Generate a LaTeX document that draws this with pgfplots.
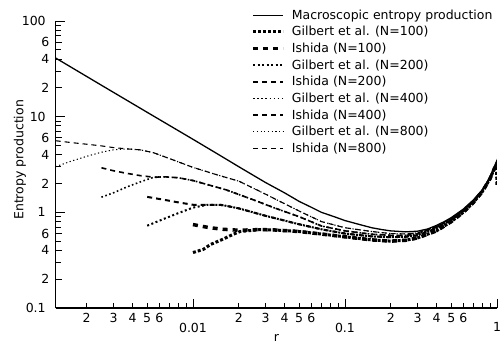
\documentclass[border=0pt]{standalone}
\usepackage{pgfplots}
\pgfplotsset{compat=1.18}
\usepackage{fontspec}
\setmainfont{DejaVu Sans}
\newcommand{\bigf}{\fontsize{12.5bp}{15bp}\selectfont}
\newcommand{\smallf}{\fontsize{8.5bp}{10bp}\selectfont}
\begin{document}
\begin{tikzpicture}
\begin{axis}[
  scale only axis, width=441.3bp, height=287bp,
  xmode=log, ymode=log,
  xmin=0.00125, xmax=1, ymin=0.1, ymax=100,
  axis x line*=bottom, axis y line*=left,
  axis line style={-, line width=1.2bp},
  tick align=inside,
  every tick/.style={black, line width=0.9bp},
  major tick length=9bp, minor tick length=5.5bp,
  xtick={0.01,0.1,1}, xticklabels={0.01,0.1,1},
  minor xtick={0.007,0.008,0.009,0.07,0.08,0.09,0.7,0.8,0.9},
  extra x ticks={0.002,0.003,0.004,0.005,0.006,0.02,0.03,0.04,0.05,0.06,0.2,0.3,0.4,0.5,0.6},
  extra x tick labels={2,3,4,5,6,2,3,4,5,6,2,3,4,5,6},
  extra x tick style={major tick length=5.5bp, tick label style={font=\smallf, yshift=9.1bp}},
  ytick={0.1,1,10,100}, yticklabels={0.1,1,10,100},
  minor ytick={0.3,0.5,0.7,0.8,0.9,3,5,7,8,9,30,50,70,80,90},
  extra y ticks={0.2,0.4,0.6,2,4,6,20,40,60},
  extra y tick labels={2,4,6,2,4,6,2,4,6},
  extra y tick style={major tick length=6.5bp, tick label style={font=\smallf, xshift=3.6bp}},
  xticklabel style={font=\bigf, yshift=-11.3bp},
  yticklabel style={font=\bigf, xshift=-6.5bp},
  xlabel={r}, ylabel={Entropy production},
  xlabel style={font=\bigf, at={(axis description cs:0.5,-0.103)}, anchor=center},
  ylabel style={font=\bigf, at={(axis description cs:-0.081,0.516)}, anchor=center, rotate=0},
  legend style={at={(axis description cs:0.443,1.047)}, anchor=north west, draw=none, fill=none,
    font=\bigf, inner sep=0pt, row sep=1.7bp, legend cell align=left,
    /tikz/every odd column/.append style={column sep=5bp}},
  legend image code/.code={\draw[#1] (0bp,0bp) -- (30bp,0bp);},
]
\addplot[black, line width=1.3bp] table {
0.00125 41
0.0025 21.3
0.005 11.1
0.01 5.8
0.015 3.95
0.02 3.0
0.03 2.05
0.04 1.6
0.05 1.3
0.06 1.13
0.07 1.0
0.085 0.9
0.1 0.82
0.125 0.745
0.15 0.69
0.175 0.66
0.2 0.64
0.25 0.625
0.3 0.635
0.35 0.67
0.4 0.73
0.45 0.8
0.5 0.88
0.6 1.08
0.7 1.35
0.8 1.72
0.85 1.98
0.9 2.35
0.95 2.85
1.0 3.4
};
\addlegendentry{Macroscopic entropy production}
% Gilbert N=100
\addplot[black, line width=3bp, dash pattern=on 3bp off 2bp] table {
0.01 0.38
0.0117 0.41
0.013 0.46
0.0158 0.525
0.0184 0.59
0.0204 0.63
0.0276 0.66
0.034 0.655
0.05 0.63
0.072 0.59
0.1 0.555
0.15 0.515
0.2 0.5
0.25 0.51
0.3 0.54
0.4 0.64
0.5 0.8
0.6 1.0
0.7 1.27
0.8 1.64
0.9 2.25
0.95 2.75
0.99 3.2
1.0 1.9
};
\addlegendentry{Gilbert et al. (N=100)}
% Ishida N=100
\addplot[black, line width=3.5bp, dash pattern=on 5bp off 5bp] table {
0.01 0.745
0.0117 0.71
0.013 0.69
0.0158 0.665
0.02 0.65
0.0276 0.66
0.034 0.655
0.05 0.63
0.072 0.59
0.1 0.555
0.15 0.515
0.2 0.5
0.25 0.51
0.3 0.54
0.4 0.64
0.5 0.8
0.6 1.0
0.7 1.27
0.8 1.64
0.9 2.25
0.95 2.75
1.0 3.3
};
\addlegendentry{Ishida (N=100)}
% Gilbert N=200
\addplot[black, line width=2bp, dash pattern=on 2bp off 2.5bp] table {
0.005 0.725
0.0065 0.86
0.008 0.98
0.01 1.12
0.0125 1.2
0.015 1.2
0.0165 1.17
0.02 1.1
0.03 0.92
0.05 0.75
0.07 0.665
0.1 0.6
0.15 0.56
0.2 0.55
0.25 0.555
0.3 0.575
0.4 0.68
0.5 0.83
0.6 1.03
0.7 1.3
0.8 1.67
0.9 2.28
0.95 2.78
0.99 3.2
1.0 1.95
};
\addlegendentry{Gilbert et al. (N=200)}
% Ishida N=200
\addplot[black, line width=2bp, dash pattern=on 5bp off 4bp] table {
0.005 1.45
0.0065 1.35
0.008 1.27
0.01 1.2
0.0125 1.2
0.015 1.2
0.0165 1.17
0.02 1.1
0.03 0.92
0.05 0.75
0.07 0.665
0.1 0.6
0.15 0.56
0.2 0.55
0.25 0.555
0.3 0.575
0.4 0.68
0.5 0.83
0.6 1.03
0.7 1.3
0.8 1.67
0.9 2.28
0.95 2.78
1.0 3.3
};
\addlegendentry{Ishida (N=200)}
% Gilbert N=400
\addplot[black, line width=1.6bp, dash pattern=on 1.6bp off 2.5bp] table {
0.0025 1.44
0.003 1.6
0.0037 1.85
0.0045 2.08
0.0055 2.32
0.0065 2.35
0.008 2.3
0.01 2.15
0.0165 1.72
0.025 1.35
0.035 1.1
0.05 0.9
0.07 0.72
0.1 0.64
0.15 0.59
0.2 0.575
0.25 0.575
0.3 0.595
0.4 0.7
0.5 0.85
0.6 1.05
0.7 1.32
0.8 1.69
0.9 2.3
0.95 2.8
1.0 3.3
};
\addlegendentry{Gilbert et al. (N=400)}
% Ishida N=400
\addplot[black, line width=1.6bp, dash pattern=on 5bp off 4bp] table {
0.0025 2.92
0.003 2.72
0.0037 2.55
0.0045 2.42
0.0055 2.33
0.0065 2.35
0.008 2.3
0.01 2.15
0.0165 1.72
0.025 1.35
0.035 1.1
0.05 0.9
0.07 0.72
0.1 0.64
0.15 0.59
0.2 0.575
0.25 0.575
0.3 0.595
0.4 0.7
0.5 0.85
0.6 1.05
0.7 1.32
0.8 1.69
0.9 2.3
0.95 2.8
1.0 3.3
};
\addlegendentry{Ishida (N=400)}
% Gilbert N=800
\addplot[black, line width=1.1bp, dash pattern=on 1.2bp off 2.5bp] table {
0.00125 3.0
0.0016 3.45
0.002 3.85
0.0025 4.25
0.003 4.5
0.0037 4.6
0.0045 4.5
0.0055 4.2
0.007 3.65
0.01 2.95
0.014 2.5
0.02 2.12
0.03 1.55
0.05 1.03
0.07 0.8
0.1 0.69
0.15 0.63
0.2 0.6
0.25 0.595
0.3 0.61
0.4 0.71
0.5 0.86
0.6 1.06
0.7 1.33
0.8 1.7
0.9 2.32
0.95 2.82
1.0 3.35
};
\addlegendentry{Gilbert et al. (N=800)}
% Ishida N=800
\addplot[black, line width=1.1bp, dash pattern=on 5bp off 4bp] table {
0.00125 5.6
0.0016 5.35
0.002 5.15
0.0025 4.95
0.003 4.75
0.0037 4.6
0.0045 4.5
0.0055 4.2
0.007 3.65
0.01 2.95
0.014 2.5
0.02 2.12
0.03 1.55
0.05 1.03
0.07 0.8
0.1 0.69
0.15 0.63
0.2 0.6
0.25 0.595
0.3 0.61
0.4 0.71
0.5 0.86
0.6 1.06
0.7 1.33
0.8 1.7
0.9 2.32
0.95 2.82
1.0 3.35
};
\addlegendentry{Ishida (N=800)}
\end{axis}
\pgfresetboundingbox
\path[use as bounding box] (-55.7bp,-35bp) rectangle (445.3bp,308bp);
\end{tikzpicture}
\end{document}
